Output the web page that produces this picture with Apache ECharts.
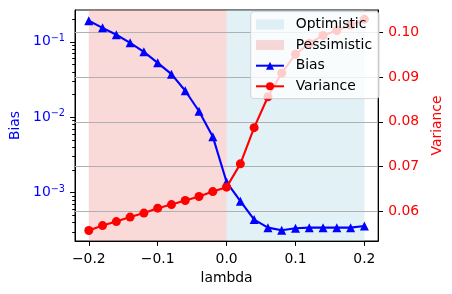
<!DOCTYPE html>
<html><head><meta charset="utf-8">
<script src="https://cdn.jsdelivr.net/npm/echarts@6/dist/echarts.min.js"></script>
<style>html,body{margin:0;padding:0;background:#fff}#c{width:452px;height:294px}</style>
</head><body><div id="c"></div>
<script>
// ---- data ----
const lambdas = [-0.2,-0.18,-0.16,-0.14,-0.12,-0.1,-0.08,-0.06,-0.04,-0.02,0,0.02,0.04,0.06,0.08,0.1,0.12,0.14,0.16,0.18,0.2];
const bias = [0.19,0.153,0.124,0.097,0.0736,0.0526,0.0372,0.0224,0.0120,0.00552,0.00138,0.00077,0.000438,0.000343,0.000316,0.000336,0.000343,0.000343,0.000343,0.000343,0.00036];
const variance = [0.0557,0.0568,0.0577,0.0587,0.0596,0.0607,0.0615,0.0624,0.0633,0.0644,0.0654,0.0706,0.0787,0.0856,0.0909,0.0951,0.0975,0.0993,0.1004,0.1016,0.1029];
const pessimisticRange = [-0.2, 0];
const optimisticRange = [0, 0.2];
const xTicks = [-0.2,-0.1,0,0.1,0.2];
const biasMajorTicks = [0.001,0.01,0.1];
const varTicks = [0.06,0.07,0.08,0.09,0.10];
const xRange = [-0.22, 0.22];
const biasRange = [2.28e-4, 0.264];
const varRange = [0.05336, 0.10499];

const biasMinorTicks = [];
[-4,-3,-2,-1].forEach(e => { for (let k = 2; k <= 9; k++) { const v = k * Math.pow(10, e); if (v > biasRange[0] && v < biasRange[1]) biasMinorTicks.push(v); } });

const FONT = 'DejaVu Sans';
const FS = 13.9;
const lg = Math.log10;

const chart = echarts.init(document.getElementById('c'), null, {renderer: 'canvas'});
const pair = (xs, ys) => xs.map((x, i) => [x, ys[i]]);
const optColor = 'rgba(173,216,230,0.35)';
const pesColor = 'rgba(240,128,128,0.3)';

chart.setOption({
  animation: false,
  textStyle: {fontFamily: FONT},
  grid: {left: 73, right: 69, top: 10, bottom: 53, show: true, borderColor: '#000', borderWidth: 1, backgroundColor: 'transparent'},
  legend: {
    z: 20,
    orient: 'vertical', left: 250.7, top: 11.7,
    padding: [5.8, 7, 5.3, 4.3],
    itemWidth: 28, itemHeight: 10, itemGap: 6.6,
    backgroundColor: 'rgba(255,255,255,0.8)',
    borderColor: 'rgba(204,204,204,0.8)', borderWidth: 1, borderRadius: 3,
    formatter: n => '{g|}{t|' + n + '}',
    textStyle: {fontFamily: FONT, fontSize: FS, color: '#000', lineHeight: 14,
      rich: {g: {width: 6.7}, t: {fontFamily: FONT, fontSize: FS, color: '#000', lineHeight: 14}}},
    data: [{name: 'Optimistic', icon: 'rect'}, {name: 'Pessimistic', icon: 'rect'}, 'Bias', 'Variance']
  },
  xAxis: {
    type: 'value', min: xRange[0], max: xRange[1],
    axisLine: {show: true, onZero: false, lineStyle: {color: '#000', width: 1}},
    axisTick: {show: true, customValues: xTicks, length: 4.9, lineStyle: {color: '#000'}},
    axisLabel: {customValues: xTicks, margin: 11, color: '#000', fontSize: FS, fontFamily: FONT,
      formatter: v => (Math.abs(v) < 1e-9 ? '0.0' : (v < 0 ? '\u2212' : '') + Math.abs(v).toFixed(1))},
    splitLine: {show: false},
    name: 'lambda', nameLocation: 'middle', nameGap: 29,
    nameTextStyle: {color: '#000', fontSize: FS, fontFamily: FONT}
  },
  yAxis: [
    {
      type: 'log', logBase: 10, min: biasRange[0], max: biasRange[1], position: 'left',
      axisLine: {show: true, onZero: false, lineStyle: {color: '#000'}},
      axisTick: {show: false}, axisLabel: {show: false}, splitLine: {show: false},
      name: 'Bias', nameLocation: 'middle', nameGap: 53, nameRotate: 90,
      nameTextStyle: {color: '#0000ff', fontSize: FS, fontFamily: FONT}
    },
    {
      type: 'value', min: varRange[0], max: varRange[1], position: 'right', z: 1,
      axisLine: {show: true, onZero: false, lineStyle: {color: '#000'}},
      axisTick: {show: true, customValues: varTicks, length: 4.9, lineStyle: {color: '#000'}},
      axisLabel: {customValues: varTicks, margin: 10, color: '#ff0000', fontSize: FS, fontFamily: FONT, formatter: v => v.toFixed(2)},
      splitLine: {show: true, lineStyle: {color: '#b0b0b0', width: 1.1}},
      name: 'Variance', nameLocation: 'middle', nameGap: 47, nameRotate: 90,
      nameTextStyle: {color: '#ff0000', fontSize: FS, fontFamily: FONT}
    },
    {
      type: 'value', min: lg(biasRange[0]), max: lg(biasRange[1]), position: 'left',
      axisLine: {show: false, onZero: false},
      axisTick: {show: true, customValues: biasMajorTicks.map(lg), length: 4.9, lineStyle: {color: '#000'}},
      axisLabel: {customValues: biasMajorTicks.map(lg), margin: 10, color: '#0000ff', fontFamily: FONT,
        formatter: v => '{b|10}{s|\u2212' + Math.round(-v) + '}',
        rich: {b: {fontSize: FS, color: '#0000ff', fontFamily: FONT}, s: {fontSize: 9.7, color: '#0000ff', fontFamily: FONT, padding: [0,0,7,0]}}},
      splitLine: {show: false}
    },
    {
      type: 'value', min: lg(biasRange[0]), max: lg(biasRange[1]), position: 'left',
      axisLine: {show: false, onZero: false},
      axisTick: {show: true, customValues: biasMinorTicks.map(lg), length: 2.8, lineStyle: {color: '#000'}},
      axisLabel: {show: false}, splitLine: {show: false}
    }
  ],
  series: [
    {
      name: 'Optimistic', type: 'line', data: [], xAxisIndex: 0, yAxisIndex: 1,
      itemStyle: {color: optColor}, lineStyle: {color: optColor},
      markArea: {silent: true, z: 0, itemStyle: {color: optColor}, data: [[{xAxis: optimisticRange[0]}, {xAxis: optimisticRange[1]}]]}
    },
    {
      name: 'Pessimistic', type: 'line', data: [], xAxisIndex: 0, yAxisIndex: 1,
      itemStyle: {color: pesColor}, lineStyle: {color: pesColor},
      markArea: {silent: true, z: 0, itemStyle: {color: pesColor}, data: [[{xAxis: pessimisticRange[0]}, {xAxis: pessimisticRange[1]}]]}
    },
    {
      name: 'Bias', type: 'line', yAxisIndex: 0, data: pair(lambdas, bias),
      symbol: 'triangle', symbolSize: 9, showAllSymbol: true,
      itemStyle: {color: '#0000ff'}, lineStyle: {color: '#0000ff', width: 2.1}, z: 2
    },
    {
      name: 'Variance', type: 'line', yAxisIndex: 1, data: pair(lambdas, variance),
      symbol: 'circle', symbolSize: 9, showAllSymbol: true,
      itemStyle: {color: '#ff0000'}, lineStyle: {color: '#ff0000', width: 2.1}, z: 3
    }
  ]
});
</script></body></html>
